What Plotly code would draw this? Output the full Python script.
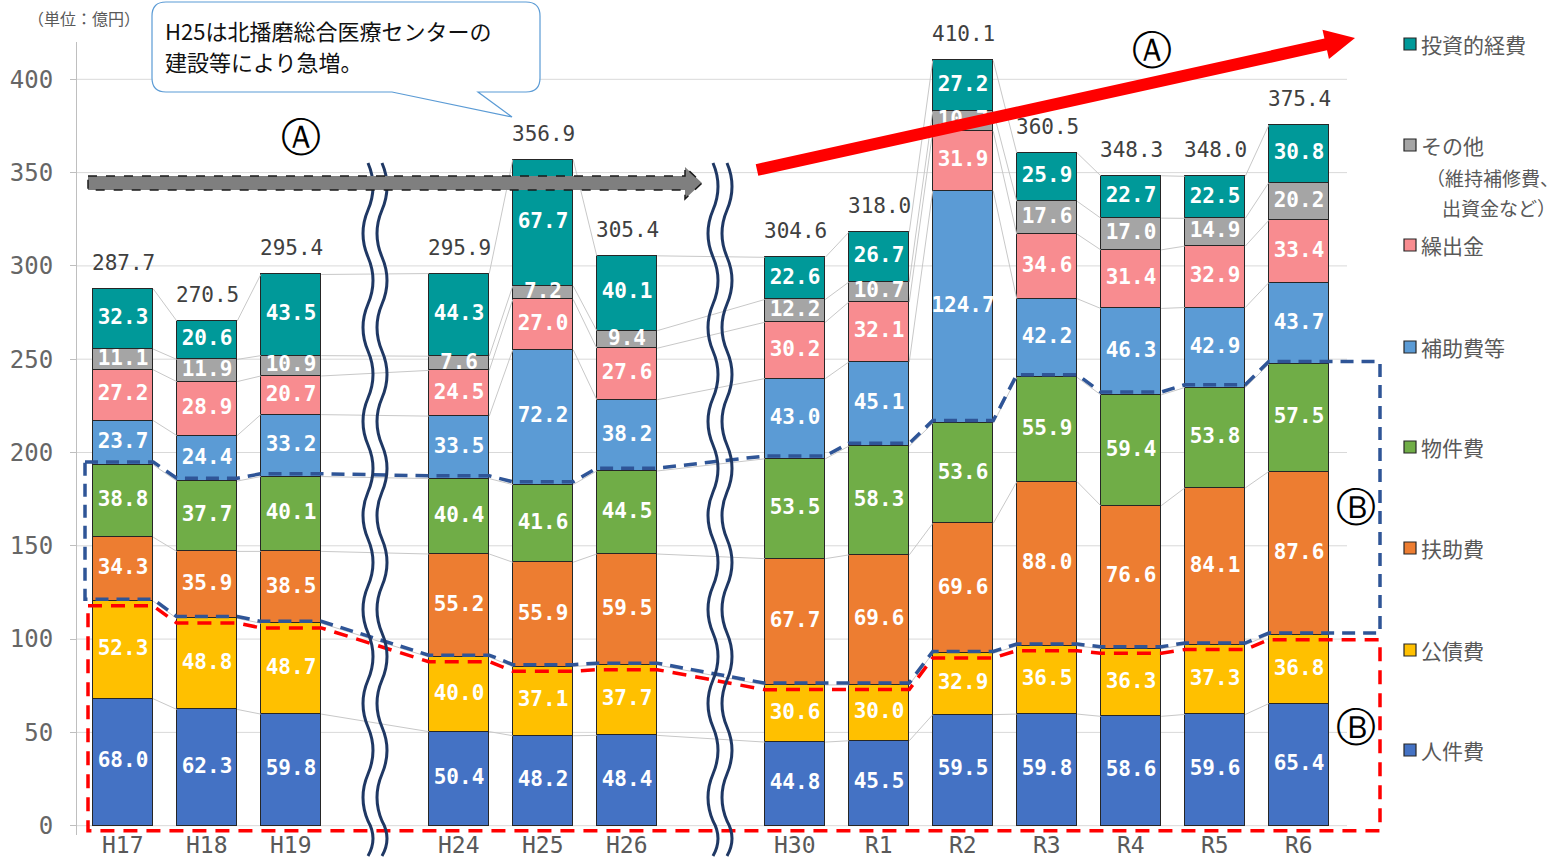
import plotly.graph_objects as go

# ---------------- data ----------------
categories = ["H17", "H18", "H19", "H24", "H25", "H26", "H30", "R1", "R2", "R3", "R4", "R5", "R6"]
jinkenhi   = [68.0, 62.3, 59.8, 50.4, 48.2, 48.4, 44.8, 45.5, 59.5, 59.8, 58.6, 59.6, 65.4]
kousaihi   = [52.3, 48.8, 48.7, 40.0, 37.1, 37.7, 30.6, 30.0, 32.9, 36.5, 36.3, 37.3, 36.8]
fujohi     = [34.3, 35.9, 38.5, 55.2, 55.9, 59.5, 67.7, 69.6, 69.6, 88.0, 76.6, 84.1, 87.6]
bukkenhi   = [38.8, 37.7, 40.1, 40.4, 41.6, 44.5, 53.5, 58.3, 53.6, 55.9, 59.4, 53.8, 57.5]
hojohi     = [23.7, 24.4, 33.2, 33.5, 72.2, 38.2, 43.0, 45.1, 124.7, 42.2, 46.3, 42.9, 43.7]
kuridashi  = [27.2, 28.9, 20.7, 24.5, 27.0, 27.6, 30.2, 32.1, 31.9, 34.6, 31.4, 32.9, 33.4]
sonota     = [11.1, 11.9, 10.9, 7.6, 7.2, 9.4, 12.2, 10.7, 10.7, 17.6, 17.0, 14.9, 20.2]
toushi     = [32.3, 20.6, 43.5, 44.3, 67.7, 40.1, 22.6, 26.7, 27.2, 25.9, 22.7, 22.5, 30.8]
totals     = [287.7, 270.5, 295.4, 295.9, 356.9, 305.4, 304.6, 318.0, 410.1, 360.5, 348.3, 348.0, 375.4]
break_after = ["H19", "H26"]
yticks = [0, 50, 100, 150, 200, 250, 300, 350, 400]

series_names = ["人件費", "公債費", "扶助費", "物件費", "補助費等", "繰出金", "その他", "投資的経費"]
series_vals = [jinkenhi, kousaihi, fujohi, bukkenhi, hojohi, kuridashi, sonota, toushi]
colors = ["#4472C4", "#FFC000", "#ED7D31", "#70AD47", "#5B9BD5", "#F88C90", "#A5A5A5", "#009999"]

FONT = "Noto Sans CJK JP"
NUMFONT = "DejaVu Sans Mono"

# slot positions (blank slot after each axis break)
slots = []
s = 0
for c in categories:
    slots.append(s)
    s += 1
    if c in break_after:
        s += 1

# ---------------- geometry helpers ----------------
W, H = 1562, 857
L, R, T, B = 77, 1385, 42, 835
X_C0, X_STEP = 123, 84
YMIN, YMAX = -5, 420
HW = 0.36  # half bar width in slot units


def xslot(px):
    return (px - X_C0) / X_STEP


def pap(px, py):
    return ((px - L) / (R - L), (B - py) / (B - T))


fig = go.Figure()

# cumulative levels
cums = []
run = [0.0] * len(categories)
for vals in series_vals:
    run = [a + b for a, b in zip(run, vals)]
    cums.append(list(run))

# connector lines between bars (grey thin)
cx, cy = [], []
for lev in cums:
    for j in range(len(categories) - 1):
        cx += [slots[j] + HW, slots[j + 1] - HW, None]
        cy += [lev[j], lev[j + 1], None]
fig.add_trace(go.Scatter(x=cx, y=cy, mode="lines", line=dict(color="#C8C8C8", width=1),
                         hoverinfo="skip", showlegend=False))

# bars
for name, vals, col in zip(series_names, series_vals, colors):
    fig.add_trace(go.Bar(x=slots, y=vals, name=name, width=0.72,
                         marker=dict(color=col, line=dict(color="#262626", width=1)),
                         showlegend=False))

# segment value labels
lx, ly, lt = [], [], []
for k, vals in enumerate(series_vals):
    for j, v in enumerate(vals):
        base = cums[k][j] - v
        lx.append(slots[j])
        ly.append(base + v / 2)
        lt.append(f"<b>{v:.1f}</b>")
fig.add_trace(go.Scatter(x=lx, y=ly, mode="text", text=lt,
                         textfont=dict(color="white", size=21, family=NUMFONT),
                         hoverinfo="skip", showlegend=False, cliponaxis=False))

# blue dashed outline (扶助費 + 物件費)
upper = [v + 1.5 for v in cums[3]]
lower = [v + 1.0 for v in cums[1]]
xl_b, xr = xslot(85), xslot(1380)
bx, by = [xl_b], [upper[0]]
for j in range(len(categories)):
    bx += [slots[j] - HW, slots[j] + HW]
    by += [upper[j], upper[j]]
bx += [xr, xr]
by += [upper[-1], lower[-1]]
for j in reversed(range(len(categories))):
    bx += [slots[j] + HW, slots[j] - HW]
    by += [lower[j], lower[j]]
bx += [xl_b, xl_b]
by += [lower[0], upper[0]]
fig.add_trace(go.Scatter(x=bx, y=by, mode="lines",
                         line=dict(color="#2F5597", width=3.5, dash="13px,8px"),
                         hoverinfo="skip", showlegend=False))

# red dashed outline (人件費 + 公債費)
rtop = [v - 2.5 for v in cums[1]]
rbot = -2.7
xl_r = xslot(88)
rx, ry = [xl_r], [rtop[0]]
for j in range(len(categories)):
    rx += [slots[j] - HW, slots[j] + HW]
    ry += [rtop[j], rtop[j]]
rx += [xr, xr, xl_r, xl_r]
ry += [rtop[-1], rbot, rbot, rtop[0]]
fig.add_trace(go.Scatter(x=rx, y=ry, mode="lines",
                         line=dict(color="#FF0000", width=3.5, dash="14px,9px"),
                         hoverinfo="skip", showlegend=False))

shapes = []
annotations = []

# gridlines
gx1 = (1347 - L) / (R - L)
for v in yticks:
    shapes.append(dict(type="line", xref="paper", yref="y", x0=0, x1=gx1, y0=v, y1=v,
                       line=dict(color="#D9D9D9", width=1), layer="below"))


# wavy break lines
def wave_path(cxp, top, bottom, amp=5, half=47):
    x0, y0 = pap(cxp, top)
    p = f"M {x0:.5f},{y0:.5f}"
    y = top
    k = 0
    while y < bottom:
        y1 = min(y + half, bottom)
        ctrl = cxp + (2 * amp if k % 2 == 0 else -2 * amp)
        qx, qy = pap(ctrl, (y + y1) / 2)
        ex, ey = pap(cxp, y1)
        p += f" Q {qx:.5f},{qy:.5f} {ex:.5f},{ey:.5f}"
        y = y1
        k += 1
    return p


for cxp in (368, 382, 713, 727):
    shapes.append(dict(type="path", xref="paper", yref="paper", path=wave_path(cxp, 163, 856),
                       line=dict(color="#1F3864", width=3)))


def poly(points):
    pts = [pap(x, y) for x, y in points]
    return "M " + " L ".join(f"{a:.5f},{b:.5f}" for a, b in pts) + " Z"


# grey block arrow (dashed outline)
grey_arrow = [(88, 176), (685, 176), (685, 167), (702, 183), (685, 199), (685, 190), (88, 190)]
shapes.append(dict(type="path", xref="paper", yref="paper", path=poly(grey_arrow),
                   fillcolor="#7F7F7F", line=dict(color="#1A1A1A", width=1.5, dash="dash")))

# red arrow
sx, sy = 757, 170
tx, ty = 1355, 38
dx, dy = tx - sx, ty - sy
ln = (dx * dx + dy * dy) ** 0.5
ux, uy = dx / ln, dy / ln
nx, ny = -uy, ux
bxh, byh = tx - 30 * ux, ty - 30 * uy
sw, hw = 6, 15
red_arrow = [(sx + sw * nx, sy + sw * ny), (bxh + sw * nx, byh + sw * ny), (bxh + hw * nx, byh + hw * ny),
             (tx, ty), (bxh - hw * nx, byh - hw * ny), (bxh - sw * nx, byh - sw * ny),
             (sx - sw * nx, sy - sw * ny)]
shapes.append(dict(type="path", xref="paper", yref="paper", path=poly(red_arrow),
                   fillcolor="#FF0000", line=dict(color="#FF0000", width=0)))


# callout box with tail
def P(x, y):
    a, b = pap(x, y)
    return f"{a:.5f},{b:.5f}"


bx0, by0, bx1, by1, rr = 152, 2, 540, 92, 14
callout = (f"M {P(bx0 + rr, by0)} L {P(bx1 - rr, by0)} Q {P(bx1, by0)} {P(bx1, by0 + rr)} "
           f"L {P(bx1, by1 - rr)} Q {P(bx1, by1)} {P(bx1 - rr, by1)} "
           f"L {P(478, by1)} L {P(512, 117)} L {P(392, by1)} "
           f"L {P(bx0 + rr, by1)} Q {P(bx0, by1)} {P(bx0, by1 - rr)} "
           f"L {P(bx0, by0 + rr)} Q {P(bx0, by0)} {P(bx0 + rr, by0)} Z")
shapes.append(dict(type="path", xref="paper", yref="paper", path=callout,
                   fillcolor="white", line=dict(color="#5B9BD5", width=1.2)))


def text_px(x, y, text, size, color="#404040", xanchor="center", yanchor="middle", family=FONT):
    a, b = pap(x, y)
    annotations.append(dict(xref="paper", yref="paper", x=a, y=b, text=text, showarrow=False,
                            xanchor=xanchor, yanchor=yanchor,
                            font=dict(size=size, color=color, family=family)))


text_px(163, 30, "H25は北播磨総合医療センターの", 22, "#111111", xanchor="left")
text_px(163, 61, "建設等により急増。", 22, "#111111", xanchor="left")
text_px(84, 18, "（単位：億円）", 16, "#595959")
text_px(301, 137, "Ⓐ", 40, "#000000", family="DejaVu Sans")
text_px(1152, 50, "Ⓐ", 40, "#000000", family="DejaVu Sans")
text_px(1356, 507, "Ⓑ", 40, "#000000", family="DejaVu Sans")
text_px(1356, 727, "Ⓑ", 40, "#000000", family="DejaVu Sans")

# totals above bars
for j, tval in enumerate(totals):
    annotations.append(dict(x=slots[j], y=tval, xref="x", yref="y", text=f"{tval:.1f}",
                            showarrow=False, yanchor="bottom", yshift=12,
                            font=dict(size=21, color="#404040", family=NUMFONT)))

# category labels (below the axis)
_, cat_y = pap(0, 845)
for j, c in enumerate(categories):
    annotations.append(dict(x=slots[j], y=cat_y, xref="x", yref="paper", text=c,
                            showarrow=False, yanchor="middle",
                            font=dict(size=23, color="#595959", family=NUMFONT)))

# custom legend
legend_rows = [("投資的経費", 44), ("その他", 145), ("繰出金", 245), ("補助費等", 347),
               ("物件費", 447), ("扶助費", 548), ("公債費", 650), ("人件費", 750)]
col_by_name = dict(zip(series_names, colors))
for name, ypx in legend_rows:
    a0, b0 = pap(1404, ypx + 6)
    a1, b1 = pap(1416, ypx - 6)
    shapes.append(dict(type="rect", xref="paper", yref="paper", x0=a0, y0=b0, x1=a1, y1=b1,
                       fillcolor=col_by_name[name], line=dict(color="#262626", width=1.2)))
    text_px(1419, ypx, name, 21, "#595959", xanchor="left")
text_px(1424, 177, "（維持補修費、", 19, "#595959", xanchor="left")
text_px(1440, 207, "出資金など）", 19, "#595959", xanchor="left")

fig.update_layout(
    width=W, height=H,
    margin=dict(l=L, r=W - R, t=T, b=H - B, autoexpand=False),
    barmode="stack", bargap=0,
    plot_bgcolor="white", paper_bgcolor="white",
    font=dict(family=FONT, color="#595959"),
    showlegend=False,
    shapes=shapes, annotations=annotations,
    xaxis=dict(range=[xslot(L), xslot(R)], tickvals=slots, showticklabels=False,
               showgrid=False, zeroline=False, showline=False, ticks="", automargin=False,
               fixedrange=True),
    yaxis=dict(range=[YMIN, YMAX], tickvals=yticks, showgrid=False,
               zeroline=False, showline=True, linecolor="#BFBFBF", linewidth=1, automargin=False,
               ticks="outside", ticklen=6, tickcolor="#BFBFBF", ticklabelstandoff=12,
               tickfont=dict(size=24, color="#666666", family=NUMFONT), fixedrange=True),
)

fig.write_html("out.html", config={"displayModeBar": False},
               post_script="document.body.style.margin='0px';")
